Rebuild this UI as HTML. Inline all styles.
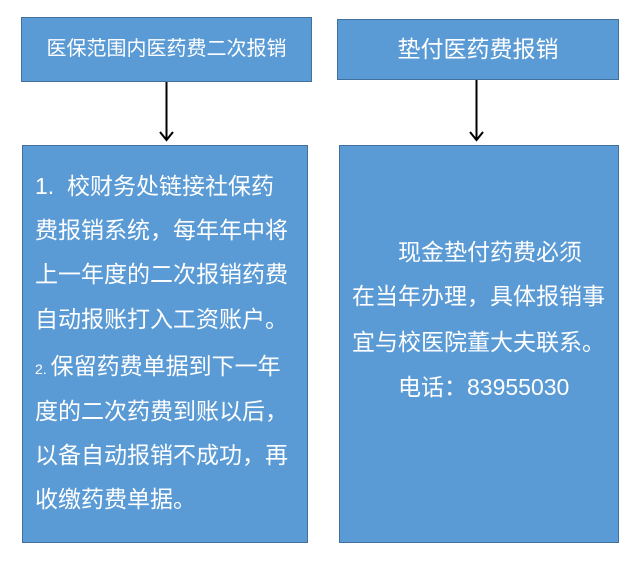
<!DOCTYPE html>
<html><head><meta charset="utf-8"><style>
body{margin:0;width:639px;height:561px;background:#fff;position:relative;overflow:hidden;font-family:"Liberation Sans","Noto Sans CJK SC",sans-serif;}
.b{position:absolute;background:#5b9bd5;border:1px solid #41719c;box-sizing:border-box;}
.t{position:absolute;color:#fff;white-space:nowrap;line-height:1;}
</style></head><body>
<div class="b" style="left:21px;top:17px;width:291px;height:65px"></div>
<div class="t" style="left:21px;width:291px;text-align:center;top:39px;font-size:20px">医保范围内医药费二次报销</div>
<div class="b" style="left:337px;top:19px;width:282px;height:61px"></div>
<div class="t" style="left:337px;width:282px;text-align:center;top:38px;font-size:23px">垫付医药费报销</div>
<svg style="position:absolute;left:0;top:0" width="639" height="561">
<g stroke="#000" stroke-width="2" fill="none">
<line x1="166.5" y1="82" x2="166.5" y2="140"/><polyline points="160,132 166.5,140 173,132"/>
<line x1="476.5" y1="80" x2="476.5" y2="140"/><polyline points="470,132 476.5,140 483,132"/>
</g></svg>
<div class="b" style="left:22px;top:145px;width:286px;height:398px"></div>
<div class="b" style="left:339px;top:145px;width:280px;height:398px"></div>
<div style="font-size:23px">
<div class="t" style="left:35px;top:175px">1.&nbsp; 校财务处链接社保药</div>
<div class="t" style="left:35px;top:219px">费报销系统，每年年中将</div>
<div class="t" style="left:35px;top:263px">上一年度的二次报销药费</div>
<div class="t" style="left:35px;top:308px">自动报账打入工资账户。</div>
<div class="t" style="left:35px;top:355px"><span style="font-size:14px">2. </span>保留药费单据到下一年</div>
<div class="t" style="left:35px;top:400px">度的二次药费到账以后，</div>
<div class="t" style="left:35px;top:444px">以备自动报销不成功，再</div>
<div class="t" style="left:35px;top:488px">收缴药费单据。</div>
<div class="t" style="left:398px;top:241px">现金垫付药费必须</div>
<div class="t" style="left:352px;top:285px">在当年办理，具体报销事</div>
<div class="t" style="left:352px;top:331px">宜与校医院董大夫联系。</div>
<div class="t" style="left:398px;top:376px">电话：83955030</div>
</div>
</body></html>
